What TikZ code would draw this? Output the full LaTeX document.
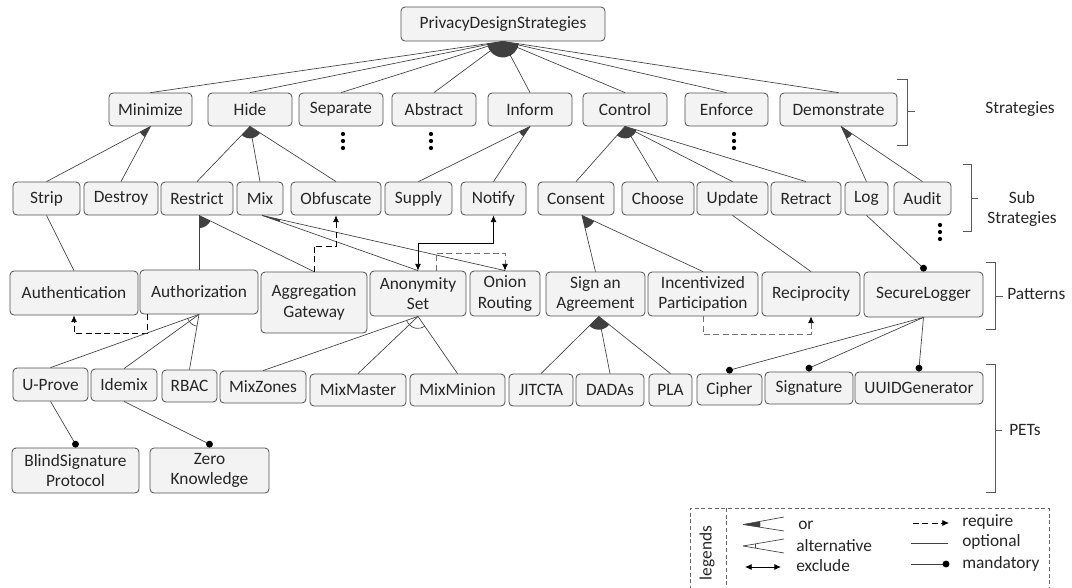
\documentclass[tikz,border=0pt]{standalone}
\usepackage{fontspec}
\setmainfont{Carlito}
\usetikzlibrary{calc,arrows.meta}
\definecolor{boxfill}{HTML}{F3F3F3}
\definecolor{boxdraw}{HTML}{505050}
\definecolor{lcol}{HTML}{404040}
\definecolor{reqgray}{HTML}{707070}
\tikzset{
  box/.style={draw=boxdraw, fill=boxfill, rounded corners=3pt, line width=0.6pt, inner sep=1pt, align=center, text=black!85},
  conn/.style={draw=lcol, line width=0.5pt},
  reqline/.style={draw=black, line width=0.5pt, dash pattern=on 4.5pt off 2.5pt, -{Latex[length=5pt,width=4.5pt]}},
  reqgrayline/.style={draw=reqgray, line width=0.6pt, dash pattern=on 4.5pt off 2.5pt, -{Latex[length=5pt,width=4.5pt,color=black]}},
  exclline/.style={draw=black, line width=0.6pt, {Latex[length=5pt,width=4.5pt]}-{Latex[length=5pt,width=4.5pt]}},
  brk/.style={draw=black!65, line width=0.6pt},
  lbl/.style={text=black!85, inner sep=0pt, align=center},
}
\newcommand\bx[6]{\pgfmathsetmacro\bxw{(#3-#2)*0.75}\pgfmathsetmacro\bxh{(#5-#4)*0.75}%
  \node[box, minimum width=\bxw pt, minimum height=\bxh pt] (#1) at ({(#2+#3)/2},{(#4+#5)/2}) {#6};}
% filled "or" sector: source, first (leftmost) child, last child, radius
\newcommand\orsec[4]{\fill[lcol] let \p1=(#1), \p2=(#2), \p3=(#3),
  \n1={atan2(\y2-\y1,\x2-\x1)}, \n2={atan2(\y3-\y1,\x3-\x1)} in
  (#1) -- ++(\n1:#4) arc[start angle=\n1, end angle=\n2, radius=#4] -- cycle;}
% hollow "alternative" arc
\newcommand\altarc[4]{\draw[conn] let \p1=(#1), \p2=(#2), \p3=(#3),
  \n1={atan2(\y2-\y1,\x2-\x1)}, \n2={atan2(\y3-\y1,\x3-\x1)} in
  (#1) ++(\n1:#4) arc[start angle=\n1, end angle=\n2, radius=#4];}
\newcommand\mand[2]{\draw[conn] (#1) -- ([yshift=2.6pt]#2.north); \fill[black] ([yshift=2.6pt]#2.north) circle (2.6pt);}
\begin{document}
\begin{tikzpicture}[x=0.75pt, y=-0.75pt, font=\fontsize{13}{15.5}\selectfont]
\useasboundingbox (0,0) rectangle (1072,587);
% ---------- nodes ----------
\bx{root}{401}{605}{7}{41}{PrivacyDesignStrategies}
\bx{minimize}{109}{192}{93}{126}{Minimize}
\bx{hide}{208}{292}{93}{126}{Hide}
\bx{separate}{299}{383}{93}{126}{Separate}
\bx{abstract}{392}{476}{93}{126}{Abstract}
\bx{inform}{488}{572}{93}{126}{Inform}
\bx{control}{583}{667}{93}{126}{Control}
\bx{enforce}{685}{768}{93}{126}{Enforce}
\bx{demonstrate}{780}{897}{93}{126}{Demonstrate}
%
\bx{strip}{13}{80}{182}{215}{Strip}
\bx{destroy}{84}{158}{182}{215}{Destroy}
\bx{restrict}{161}{233}{182}{215}{Restrict}
\bx{mix}{237}{283}{182}{215}{Mix}
\bx{obfuscate}{291}{381}{182}{215}{Obfuscate}
\bx{supply}{385}{452}{182}{215}{Supply}
\bx{notify}{461}{526}{182}{215}{Notify}
\bx{consent}{538}{614}{182}{215}{Consent}
\bx{choose}{622}{694}{182}{215}{Choose}
\bx{update}{697}{768}{182}{215}{Update}
\bx{retract}{771}{841}{182}{215}{Retract}
\bx{log}{845}{888}{182}{215}{Log}
\bx{audit}{894}{951}{182}{215}{Audit}
%
\bx{authn}{10}{138}{271}{315}{Authentication}
\bx{authz}{140}{258}{270}{314}{Authorization}
\bx{aggr}{261}{367}{272}{333}{Aggregation\\Gateway}
\bx{anon}{370}{466}{271}{316}{Anonymity\\Set}
\bx{onion}{470}{540}{271}{316}{Onion\\Routing}
\bx{sign}{546}{645}{272}{316}{Sign an\\Agreement}
\bx{incent}{648}{758}{272}{316}{Incentivized\\Participation}
\bx{recip}{762}{860}{272}{316}{Reciprocity}
\bx{seclog}{864}{983}{272}{317}{SecureLogger}
%
\bx{uprove}{13}{88}{368}{401}{U-Prove}
\bx{idemix}{91}{157}{369}{401}{Idemix}
\bx{rbac}{162}{217}{370}{402}{RBAC}
\bx{mixzones}{220}{306}{371}{403}{MixZones}
\bx{mixmaster}{310}{406}{374}{406}{MixMaster}
\bx{mixminion}{410}{505}{374}{406}{MixMinion}
\bx{jitcta}{509}{573}{374}{406}{JITCTA}
\bx{dadas}{576}{644}{374}{406}{DADAs}
\bx{pla}{649}{692}{374}{406}{PLA}
\bx{cipher}{697}{762}{374}{405}{Cipher}
\bx{signature}{765}{853}{372}{404}{Signature}
\bx{uuid}{855}{983}{372}{404}{UUIDGenerator}
%
\bx{blindsig}{12}{139}{448}{493}{BlindSignature\\Protocol}
\bx{zero}{150}{269}{448}{493}{Zero\\Knowledge}
% ---------- root -> strategies ----------
\foreach \c in {minimize,hide,separate,abstract,inform,control,enforce,demonstrate}
  \draw[conn] (root.south) -- (\c.north);
\orsec{root.south}{minimize.north}{demonstrate.north}{12pt}
% dots
\foreach \xx/\yy in {343/134,431/134,734/134,940/225}{
  \foreach \k in {0,7,14} \fill[black] (\xx,\yy+\k) circle (1.6pt);}
% ---------- strategies -> sub strategies ----------
\draw[conn] (minimize.south) -- (strip.north);
\draw[conn] (minimize.south) -- (destroy.north);
\orsec{minimize.south}{strip.north}{destroy.north}{9pt}
\foreach \c in {restrict,mix,obfuscate} \draw[conn] (hide.south) -- (\c.north);
\orsec{hide.south}{restrict.north}{obfuscate.north}{9pt}
\draw[conn] (inform.south) -- (supply.north);
\draw[conn] (inform.south) -- (notify.north);
\orsec{inform.south}{supply.north}{notify.north}{9pt}
\foreach \c in {consent,choose,update,retract} \draw[conn] (control.south) -- (\c.north);
\orsec{control.south}{consent.north}{retract.north}{9pt}
\coordinate (demS) at ([xshift=2pt]demonstrate.south);
\draw[conn] (demS) -- (log.north);
\draw[conn] (demS) -- (audit.north);
\orsec{demS}{log.north}{audit.north}{10pt}
% ---------- sub strategies -> patterns ----------
\draw[conn] (strip.south) -- (authn.north);
\coordinate (resS) at ([xshift=1.5pt]restrict.south);
\draw[conn] (resS) -- (resS |- authz.north);
\draw[conn] (resS) -- (aggr.north);
\orsec{resS}{resS |- authz.north}{aggr.north}{9.5pt}
\coordinate (mixS) at ([xshift=1.5pt]mix.south);
\draw[conn] (mixS) -- (anon.north);
\draw[conn] (mixS) -- (onion.north);
\orsec{mixS}{anon.north}{onion.north}{14pt}
\coordinate (conS) at ([xshift=4.5pt]consent.south);
\draw[conn] (conS) -- (sign.north);
\draw[conn] (conS) -- (incent.north);
\orsec{conS}{sign.north}{incent.north}{10pt}
\draw[conn] (update.south) -- (recip.north);
\mand{log.south}{seclog}
% require / exclude
\coordinate (agB) at (aggr.north |- 0,246);
\draw[reqline] (aggr.north) -- (agB) -| (obfuscate.south);
\coordinate (exA) at (notify.south |- 0,243);
\draw[exclline] (notify.south) -- (exA) -| (anon.north);
\coordinate (anR) at ([xshift=13.5pt]anon.north);
\coordinate (anRB) at (anR |- 0,253);
\draw[reqgrayline] (anR) -- (anRB) -| (onion.north);
\coordinate (inB) at (incent.south |- 0,334);
\draw[reqgrayline] (incent.south) -- (inB) -| (recip.south);
\coordinate (azL) at ([xshift=6pt]authz.south west);
\coordinate (azLB) at (azL |- 0,333);
\draw[reqline] (azL) -- (azLB) -| (authn.south);
% ---------- patterns -> PETs ----------
\foreach \c in {uprove,idemix,rbac} \draw[conn] (authz.south) -- (\c.north);
\altarc{authz.south}{uprove.north}{rbac.north}{9pt}
\foreach \c in {mixzones,mixmaster,mixminion} \draw[conn] (anon.south) -- (\c.north);
\altarc{anon.south}{mixzones.north}{mixminion.north}{9pt}
\coordinate (sgS) at ([xshift=2.5pt]sign.south);
\foreach \c in {jitcta,dadas,pla} \draw[conn] (sgS) -- (\c.north);
\orsec{sgS}{jitcta.north}{pla.north}{10pt}
\mand{seclog.south}{cipher}
\mand{seclog.south}{signature}
\mand{seclog.south}{uuid}
\mand{uprove.south}{blindsig}
\mand{idemix.south}{zero}
% ---------- level brackets ----------
\draw[brk] (897,79) -- (907,79) -- (907,145) -- (897,145);
\draw[brk] (907,111) -- (915,111);
\node[lbl] (lstrat) at (1020,109) {Strategies};
\draw[brk] (963,164) -- (971,164) -- (971,231) -- (963,231);
\draw[brk] (971,198) -- (978,198);
\node[lbl] (lsub) at (1022,209) {Sub\\Strategies};
\draw[brk] (986,262) -- (995,262) -- (995,329) -- (986,329);
\draw[brk] (995,296) -- (1003,296);
\node[lbl, anchor=west] (lpat) at (1007,294) {Patterns};
\draw[brk] (986,364) -- (995,364) -- (995,492) -- (986,492);
\draw[brk] (995,430) -- (1002,430);
\node[lbl, anchor=west] (lpet) at (1009,430) {PETs};
% ---------- legend ----------
\draw[draw=black!60, line width=0.6pt, dash pattern=on 3pt off 2pt] (690,590) -- (690,508) -- (1049,508) -- (1049,590);
\draw[draw=black!60, line width=0.6pt, dash pattern=on 3pt off 2pt] (726,508) -- (726,590);
\node[lbl, rotate=90] (lgd) at (707,553) {legends};
\coordinate (orA) at (743,524.5);
\coordinate (orT) at (784,517);
\coordinate (orB) at (784,531);
\draw[conn] (orA) -- (orT);
\draw[conn] (orA) -- (orB);
\orsec{orA}{orB}{orT}{13pt}
\node[lbl, anchor=west] (lor) at (798,525) {or};
\coordinate (alA) at (743,546);
\coordinate (alT) at (784,539);
\coordinate (alB) at (784,553);
\draw[conn] (alA) -- (alT);
\draw[conn] (alA) -- (alB);
\altarc{alA}{alB}{alT}{9pt}
\node[lbl, anchor=west] (lalt) at (796,546) {alternative};
\coordinate (exL) at (745,567);
\coordinate (exR) at (781,567);
\draw[exclline] (exL) -- (exR);
\node[lbl, anchor=west] (lexc) at (796,566) {exclude};
\coordinate (rqL) at (913,523);
\coordinate (rqR) at (949,523);
\draw[reqline] (rqL) -- (rqR);
\node[lbl, anchor=west] (lreq) at (962,522) {require};
\coordinate (opL) at (911,543);
\coordinate (opR) at (948,543);
\draw[conn] (opL) -- (opR);
\node[lbl, anchor=west] (lopt) at (962,542) {optional};
\coordinate (mdL) at (911,564);
\coordinate (mdR) at (946,564);
\draw[conn] (mdL) -- (mdR);
\fill[black] (mdR) circle (2.6pt);
\node[lbl, anchor=west] (lman) at (962,564) {mandatory};
\end{tikzpicture}
\end{document}
